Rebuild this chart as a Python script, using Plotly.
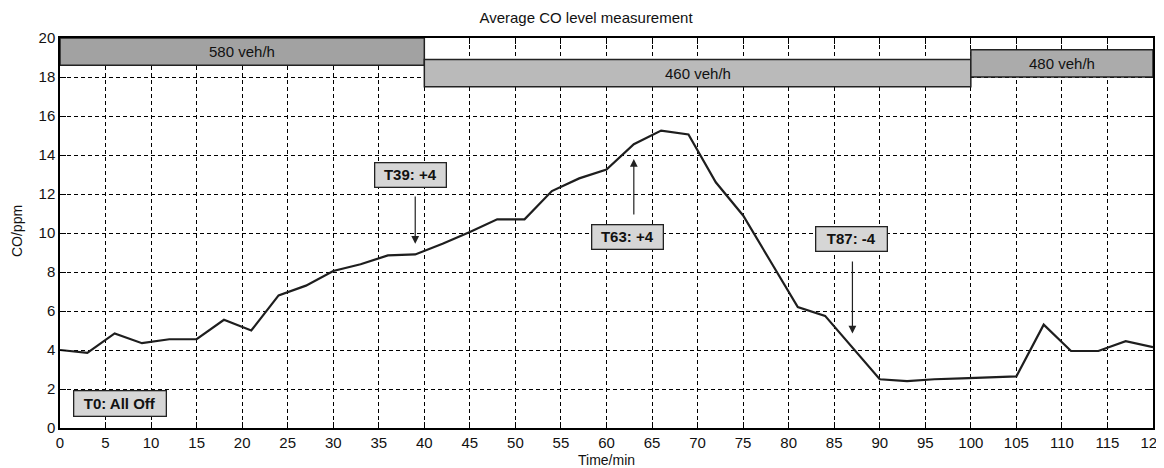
'''
    Average CO level measurement: line chart with traffic-flow bands and event arrows.
'''
import plotly.graph_objects as go

# Time axis (min) and measured CO level (ppm)
time_min = [0, 3, 6, 9, 12, 15, 18, 21, 24, 27, 30, 33, 36, 39, 42, 45, 48, 51, 54, 57,
            60, 63, 66, 69, 72, 75, 78, 81, 84, 87, 90, 93, 96, 99, 102, 105, 108, 111,
            114, 117, 120]
co_ppm = [4.0, 3.85, 4.85, 4.35, 4.55, 4.55, 5.55, 5.0, 6.8, 7.3, 8.05, 8.4, 8.85, 8.9,
          9.45, 10.05, 10.7, 10.7, 12.15, 12.8, 13.25, 14.55, 15.25, 15.05, 12.6, 10.9,
          8.55, 6.2, 5.75, 4.1, 2.5, 2.4, 2.5, 2.55, 2.6, 2.65, 5.3, 3.95, 3.95, 4.45, 4.15]

# Traffic flow periods
flow_labels = ['580 veh/h', '460 veh/h', '480 veh/h']
flow_start = [0, 40, 100]
flow_end = [40, 100, 120]

# Events (time, label, level pointed at)
event_times = [39, 63, 87]
event_labels = ['T39: +4', 'T63: +4', 'T87: -4']
event_levels = [9.45, 13.8, 4.85]

FONT = 'Liberation Sans, Arial, sans-serif'
TXT = '#111111'

fig = go.Figure()
fig.add_trace(go.Scatter(x=time_min, y=co_ppm, mode='lines',
                         line=dict(color='#1e1e1e', width=2.2), showlegend=False))

# flow bands along the top (y extents and colours are styling)
band_y = [(18.6, 20.0), (17.5, 18.9), (18.0, 19.4)]
band_col = ['#a2a2a2', '#bababa', '#ababab']
for lab, x0, x1, (y0, y1), col in zip(flow_labels, flow_start, flow_end, band_y, band_col):
    fig.add_shape(type='rect', xref='x', yref='y', x0=x0, x1=x1, y0=y0, y1=y1,
                  fillcolor=col, line=dict(color='#222222', width=1.5), layer='above')
    fig.add_annotation(x=(x0 + x1) / 2, y=(y0 + y1) / 2, text=lab, showarrow=False,
                       font=dict(family=FONT, size=15, color=TXT))

# event boxes and arrows (box offsets are styling)
box_pos = [(38.5, 12.97), (62.3, 9.79), (86.9, 9.71)]
tail_y = [11.95, 10.87, 8.62]
for t, lab, lvl, (bx, by), ty in zip(event_times, event_labels, event_levels, box_pos, tail_y):
    fig.add_annotation(x=bx, y=by, text='<b>' + lab + '</b>', showarrow=False,
                       bgcolor='#d6d6d6', bordercolor='#222222', borderwidth=1.3,
                       borderpad=1, width=68, height=21,
                       font=dict(family=FONT, size=15, color=TXT))
    fig.add_annotation(x=t, y=lvl, ax=t, ay=ty, axref='x', ayref='y', text='',
                       showarrow=True, arrowhead=2, arrowsize=1.3, arrowwidth=1.2,
                       arrowcolor='#222222')

fig.add_annotation(x=6.55, y=1.28, text='<b>T0: All Off</b>', showarrow=False,
                   bgcolor='#d6d6d6', bordercolor='#222222', borderwidth=1.3,
                   borderpad=1, width=89, height=22,
                   font=dict(family=FONT, size=15, color=TXT))

# axis titles as annotations for exact placement
fig.add_annotation(xref='paper', yref='paper', x=0.5, y=0, yanchor='middle', yshift=-32,
                   text='Time/min', showarrow=False,
                   font=dict(family=FONT, size=14, color=TXT))
fig.add_annotation(xref='paper', yref='paper', x=0, y=0.505, xanchor='center', xshift=-43,
                   text='CO/ppm', textangle=-90, showarrow=False,
                   font=dict(family=FONT, size=14, color=TXT))

axis_common = dict(showgrid=True, gridcolor='#000000', gridwidth=1, griddash='4px,3px',
                   showline=True, linecolor='#000000', linewidth=1.5, mirror='allticks',
                   ticks='inside', ticklen=6, tickcolor='#000000', zeroline=False,
                   automargin=False, ticklabeloverflow='allow',
                   tickfont=dict(family=FONT, size=15, color=TXT))

fig.update_xaxes(range=[0, 120], dtick=5, tick0=0, **axis_common)
fig.update_yaxes(range=[0, 20], dtick=2, tick0=0, **axis_common)

# page body has an 8px margin, so the figure is sized to fit inside the window
fig.update_layout(
    width=1156, height=460,
    margin=dict(l=52, r=11, t=30, b=40),
    paper_bgcolor='#ffffff', plot_bgcolor='#ffffff',
    title=dict(text='Average CO level measurement', x=0.5, xanchor='center',
               y=0.978, yanchor='middle',
               font=dict(family=FONT, size=15, color=TXT)),
    showlegend=False,
)

fig.write_html('out.html')
